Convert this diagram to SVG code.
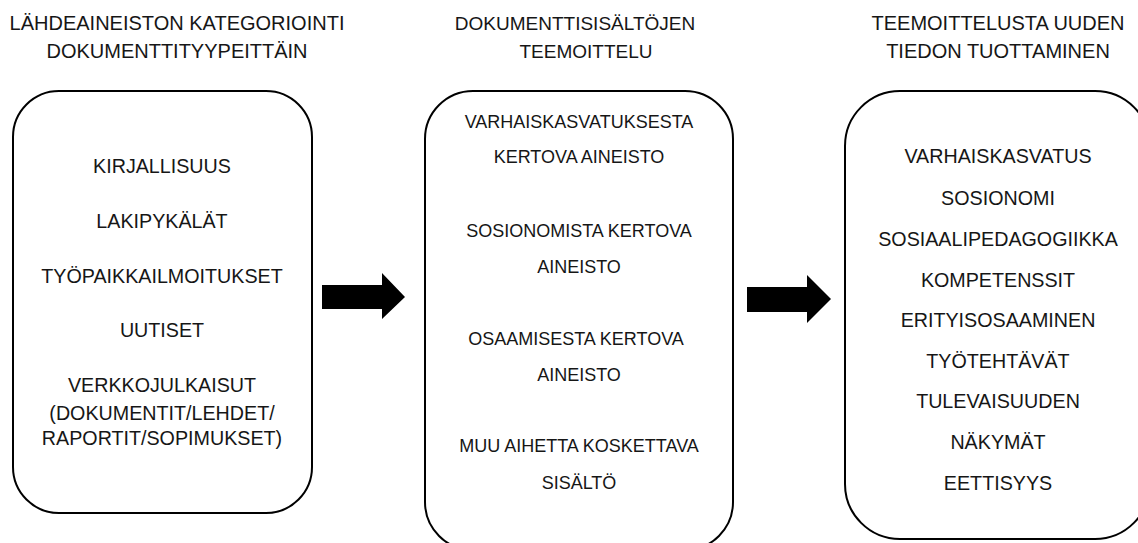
<svg xmlns="http://www.w3.org/2000/svg" width="1138" height="543" viewBox="0 0 1138 543">
<style>
text{font-family:"Liberation Sans",Arial,sans-serif;font-size:19.7px;fill:#161616;text-anchor:middle}
.title{font-size:20px}
.t2{font-size:19px}
#node2 text{font-size:18px}
.box{fill:#fff;stroke:#000;stroke-width:2}
.arrow{fill:#000}
</style>
<rect width="1138" height="543" fill="#fff"/>
<g id="titles">
<text class="title" x="177" y="30">LÄHDEAINEISTON KATEGORIOINTI</text>
<text class="title" x="177" y="58">DOKUMENTTITYYPEITTÄIN</text>
<text class="t2" x="575" y="30">DOKUMENTTISISÄLTÖJEN</text>
<text class="t2" x="586" y="58">TEEMOITTELU</text>
<text class="title" x="998" y="30">TEEMOITTELUSTA UUDEN</text>
<text class="title" x="998" y="58">TIEDON TUOTTAMINEN</text>
</g>
<g id="node1">
<rect class="box" x="13" y="91" width="299" height="422" rx="46" ry="46"/>
<text x="162" y="173">KIRJALLISUUS</text>
<text x="162" y="228">LAKIPYKÄLÄT</text>
<text x="162" y="283">TYÖPAIKKAILMOITUKSET</text>
<text x="162" y="337">UUTISET</text>
<text x="162" y="392">VERKKOJULKAISUT</text>
<text x="162" y="420">(DOKUMENTIT/LEHDET/</text>
<text x="162" y="445">RAPORTIT/SOPIMUKSET)</text>
</g>
<g id="node2">
<rect class="box" x="425" y="91" width="308" height="459" rx="48" ry="48"/>
<text x="579" y="128">VARHAISKASVATUKSESTA</text>
<text x="579" y="163">KERTOVA AINEISTO</text>
<text x="579" y="237">SOSIONOMISTA KERTOVA</text>
<text x="579" y="273">AINEISTO</text>
<text x="576" y="345">OSAAMISESTA KERTOVA</text>
<text x="579" y="381">AINEISTO</text>
<text x="579" y="452">MUU AIHETTA KOSKETTAVA</text>
<text x="579" y="489">SISÄLTÖ</text>
</g>
<g id="node3">
<rect class="box" x="845" y="91" width="305" height="448" rx="55" ry="55"/>
<text x="998" y="163">VARHAISKASVATUS</text>
<text x="998" y="205">SOSIONOMI</text>
<text x="998" y="246">SOSIAALIPEDAGOGIIKKA</text>
<text x="998" y="287">KOMPETENSSIT</text>
<text x="998" y="327">ERITYISOSAAMINEN</text>
<text x="998" y="368">TYÖTEHTÄVÄT</text>
<text x="998" y="408">TULEVAISUUDEN</text>
<text x="998" y="449">NÄKYMÄT</text>
<text x="998" y="490">EETTISYYS</text>
</g>
<g id="connectors">
<polygon class="arrow" points="322,285 382,285 382,273 405,297 382,319 382,309 322,309"/>
<polygon class="arrow" points="747,287 807,287 807,275 831,299 807,323 807,312 747,312"/>
</g>
</svg>
